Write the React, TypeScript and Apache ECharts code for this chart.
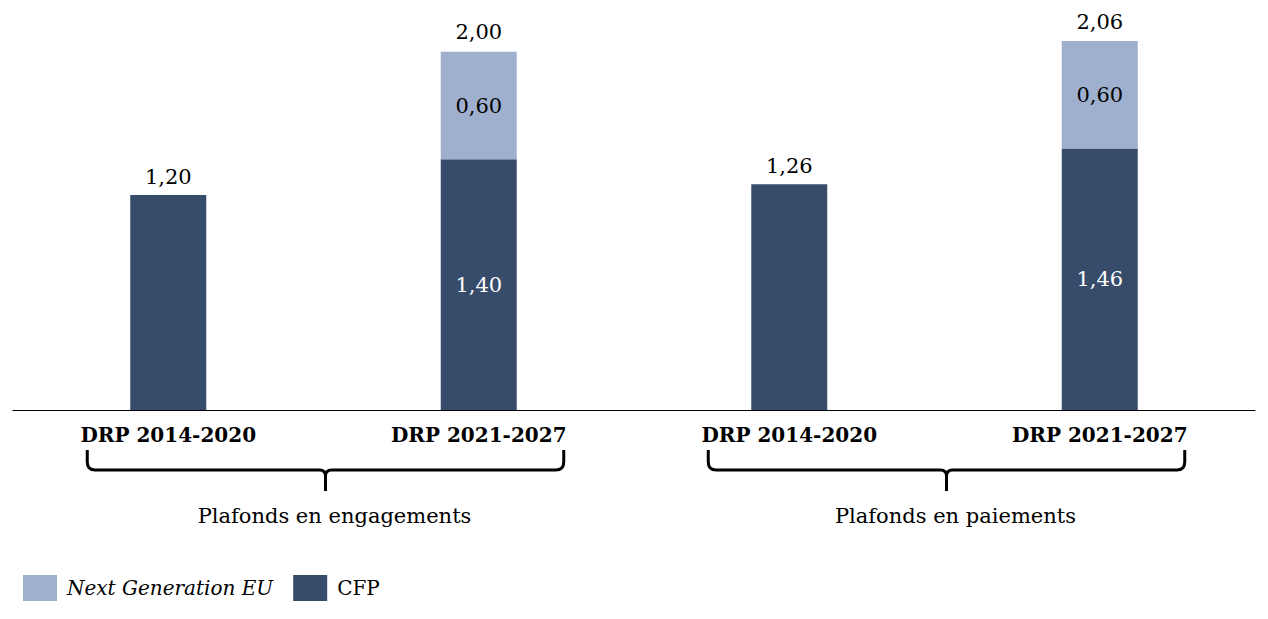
import React, { useEffect, useRef } from "react";
import * as echarts from "echarts";

const categories = ["DRP 2014-2020", "DRP 2021-2027", "DRP 2014-2020 ", "DRP 2021-2027 "];
const cfpValues = [1.2, 1.4, 1.26, 1.46];
const ngeuValues: (number | null)[] = [null, 0.6, null, 0.6];
const groupLabels = ["Plafonds en engagements", "Plafonds en paiements"];
const legendNames = ["Next Generation EU", "CFP"];

const DARK = "#374b6b";
const LIGHT = "#9eb0cd";
const FONT = "DejaVu Serif";

const fmt = (v: number) => v.toFixed(2).replace(".", ",");

function bracePath(x1: number, x2: number, xc: number, yTop: number, yMid: number, yTip: number) {
  const r = 8;
  return [
    `M ${x1} ${yTop} L ${x1} ${yMid - r} Q ${x1} ${yMid} ${x1 + r} ${yMid}`,
    `L ${xc - 6} ${yMid} Q ${xc} ${yMid} ${xc} ${yMid + 6} L ${xc} ${yTip}`,
    `M ${xc} ${yMid + 6} Q ${xc} ${yMid} ${xc + 6} ${yMid}`,
    `L ${x2 - r} ${yMid} Q ${x2} ${yMid} ${x2} ${yMid - r} L ${x2} ${yTop}`,
  ].join(" ");
}

export default function App() {
  const ref = useRef<HTMLDivElement>(null);
  useEffect(() => {
    document.body.style.margin = "0";
    if (!ref.current) return;
    const chart = echarts.init(ref.current, undefined, { renderer: "svg" });
    const totals = cfpValues.map((v, i) => v + (ngeuValues[i] ?? 0));
    const option: any = {
      animation: false,
      backgroundColor: "#ffffff",
      textStyle: { fontFamily: FONT },
      grid: { left: 13, right: 13, top: 16, bottom: 209, containLabel: false },
      legend: {
        data: legendNames,
        left: 23,
        top: 575,
        padding: 0,
        itemWidth: 34,
        itemHeight: 26,
        itemGap: 20,
        icon: "rect",
        formatter: (name: string) => (name === "Next Generation EU" ? `{i|${name}}` : name),
        textStyle: {
          fontFamily: FONT,
          fontSize: 20,
          color: "#000",
          padding: [0, 0, 0, 5],
          rich: { i: { fontFamily: FONT, fontSize: 20, fontStyle: "italic", color: "#000" } },
        },
      },
      xAxis: {
        type: "category",
        data: categories,
        axisLine: { show: true, lineStyle: { color: "#000", width: 1 } },
        axisTick: { show: false },
        axisLabel: {
          fontFamily: FONT,
          fontWeight: "bold",
          fontSize: 20,
          color: "#000",
          margin: 15,
          formatter: (v: string) => v.trim(),
        },
      },
      yAxis: {
        type: "value",
        min: 0,
        max: 2.2,
        show: false,
        splitLine: { show: false },
      },
      series: [
        {
          name: "CFP",
          type: "bar",
          stack: "s",
          barWidth: 76,
          itemStyle: { color: DARK },
          data: cfpValues.map((v, i) => ({
            value: v,
            label: ngeuValues[i] == null
              ? { show: true, position: "top", distance: 8, color: "#000" }
              : { show: true, position: "inside", color: "#fff" },
          })),
          label: { show: true, fontFamily: FONT, fontSize: 21, formatter: (p: any) => fmt(p.value) },
        },
        {
          name: "Next Generation EU",
          type: "bar",
          stack: "s",
          barWidth: 76,
          itemStyle: { color: LIGHT },
          data: ngeuValues,
          label: {
            show: true,
            position: "inside",
            color: "#000",
            fontFamily: FONT,
            fontSize: 21,
            formatter: (p: any) => (p.value == null ? "" : fmt(p.value)),
          },
        },
        {
          name: "total",
          type: "bar",
          stack: "s",
          barWidth: 76,
          itemStyle: { color: "transparent" },
          data: ngeuValues.map((v) => (v == null ? null : 0)),
          label: {
            show: true,
            position: "top",
            distance: 9,
            color: "#000",
            fontFamily: FONT,
            fontSize: 21,
            formatter: (p: any) => fmt(totals[p.dataIndex]),
          },
        },
      ],
    };
    chart.setOption(option);

    const cx = categories.map((c) => chart.convertToPixel({ xAxisIndex: 0 }, c) as number);
    const graphics: any[] = [];
    for (let g = 0; g < 2; g++) {
      const a = cx[g * 2];
      const b = cx[g * 2 + 1];
      const x1 = a - 81;
      const x2 = b + 85;
      const xc = (a + b) / 2 + 2;
      const name = `brace${g}`;
      echarts.graphic.registerShape(name, echarts.graphic.extendPath(bracePath(x1, x2, xc, 450, 470, 491), {}) as any);
      graphics.push({
        type: name,
        x: 0,
        y: 0,
        style: { fill: "none", stroke: "#000", lineWidth: 3 },
      });
      graphics.push({
        type: "text",
        x: xc + 9,
        y: 516,
        style: {
          text: groupLabels[g],
          fontFamily: FONT,
          fontSize: 21,
          fill: "#000",
          textAlign: "center",
          textVerticalAlign: "middle",
        },
      });
    }
    chart.setOption({ graphic: graphics });

    return () => chart.dispose();
  }, []);
  return <div ref={ref} style={{ width: 1268, height: 619 }} />;
}
